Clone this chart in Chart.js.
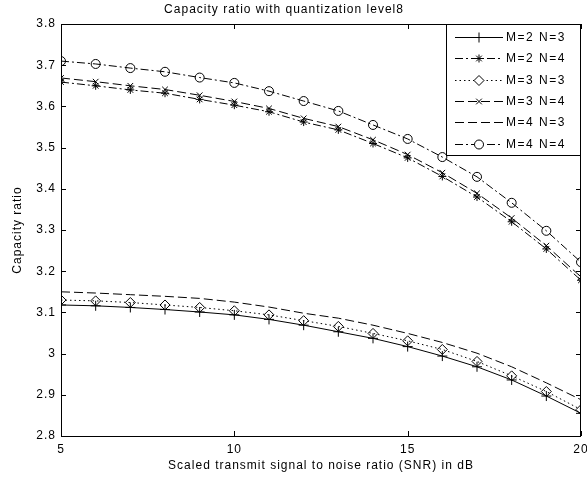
<!DOCTYPE html>
<html>
<head>
<meta charset="utf-8">
<title>Capacity ratio with quantization level8</title>
<script src="https://cdn.jsdelivr.net/npm/chart.js@4.4.1/dist/chart.umd.min.js"></script>
<style>
  html, body { margin: 0; padding: 0; background: #fff; }
  #wrap { width: 587px; height: 485px; position: relative; }
</style>
</head>
<body>
<div id="wrap"><canvas id="chart"></canvas></div>
<script>
// SNR axis (dB)
const snrDb = [5, 6, 7, 8, 9, 10, 11, 12, 13, 14, 15, 16, 17, 18, 19, 20];

// capacity ratio per antenna configuration
const m2n3 = [3.118, 3.116, 3.112, 3.107, 3.101, 3.094, 3.083, 3.069, 3.053, 3.037, 3.017, 2.994, 2.968, 2.936, 2.897, 2.855];
const m2n4 = [3.659, 3.650, 3.640, 3.632, 3.617, 3.603, 3.587, 3.562, 3.543, 3.510, 3.475, 3.430, 3.380, 3.320, 3.254, 3.178];
const m3n3 = [3.130, 3.128, 3.124, 3.118, 3.112, 3.104, 3.094, 3.080, 3.066, 3.049, 3.031, 3.010, 2.981, 2.946, 2.908, 2.864];
const m3n4 = [3.669, 3.660, 3.650, 3.641, 3.627, 3.612, 3.595, 3.571, 3.551, 3.519, 3.483, 3.439, 3.389, 3.329, 3.262, 3.186];
const m4n3 = [3.150, 3.147, 3.143, 3.139, 3.134, 3.125, 3.113, 3.098, 3.086, 3.069, 3.049, 3.027, 3.001, 2.968, 2.929, 2.888];
const m4n4 = [3.710, 3.703, 3.693, 3.684, 3.670, 3.657, 3.637, 3.613, 3.589, 3.555, 3.521, 3.477, 3.429, 3.366, 3.298, 3.222];

const seriesLabels = ['M=2 N=3', 'M=2 N=4', 'M=3 N=3', 'M=3 N=4', 'M=4 N=3', 'M=4 N=4'];

const xTickValues = [5, 10, 15, 20];
const yTickValues = [2.8, 2.9, 3.0, 3.1, 3.2, 3.3, 3.4, 3.5, 3.6, 3.7, 3.8];

const chartTitle = 'Capacity ratio with quantization level8';
const xTitle = 'Scaled transmit signal to noise ratio (SNR) in dB';
const yTitle = 'Capacity ratio';

const FONT = '"Liberation Sans", Arial, sans-serif';
Chart.defaults.font.family = FONT;
Chart.defaults.font.size = 12;
Chart.defaults.color = '#000';

function series(label, values, style, dash, radius) {
  return {
    label: label,
    data: snrDb.map((x, i) => ({ x: x, y: values[i] })),
    borderColor: '#000',
    borderWidth: 1,
    borderDash: dash,
    pointStyle: style,
    pointRadius: style ? radius : 0,
    pointBorderColor: '#000',
    pointBackgroundColor: 'rgba(0,0,0,0)',
    pointBorderWidth: 1,
    fill: false,
    tension: 0
  };
}

const datasets = [
  series(seriesLabels[0], m2n3, 'cross', [], 5),
  series(seriesLabels[1], m2n4, 'star', [8, 3, 2, 3], 4),
  series(seriesLabels[2], m3n3, 'rectRot', [1.5, 3], 5),
  series(seriesLabels[3], m3n4, 'crossRot', [9, 4], 4),
  series(seriesLabels[4], m4n3, false, [9, 4], 0),
  series(seriesLabels[5], m4n4, 'circle', [8, 3, 2, 3], 4.5)
];

// matlab style frame, inward ticks, title and legend box
const matlabFrame = {
  id: 'matlabFrame',
  beforeDraw(chart) {
    chart.ctx.letterSpacing = '1px';
  },
  afterDraw(chart) {
    const ctx = chart.ctx;
    const a = chart.chartArea;
    const xs = chart.scales.x, ys = chart.scales.y;
    ctx.save();
    ctx.strokeStyle = '#000';
    ctx.lineWidth = 1;
    ctx.setLineDash([]);
    ctx.beginPath();
    xs.ticks.forEach(t => {
      const px = Math.round(xs.getPixelForValue(t.value)) + 0.5;
      ctx.moveTo(px, a.bottom); ctx.lineTo(px, a.bottom - 5);
      ctx.moveTo(px, a.top); ctx.lineTo(px, a.top + 5);
    });
    ys.ticks.forEach(t => {
      const py = Math.round(ys.getPixelForValue(t.value)) + 0.5;
      ctx.moveTo(a.left, py); ctx.lineTo(a.left + 5, py);
      ctx.moveTo(a.right, py); ctx.lineTo(a.right - 5, py);
    });
    ctx.stroke();
    ctx.strokeRect(Math.round(a.left) + 0.5, Math.round(a.top) + 0.5,
      Math.round(a.right - a.left) - 1, Math.round(a.bottom - a.top));

    // title
    ctx.fillStyle = '#000';
    ctx.font = '12px ' + FONT;
    ctx.letterSpacing = '1px';
    ctx.textAlign = 'center';
    ctx.textBaseline = 'middle';
    ctx.fillText(chartTitle, 284, 10);

    // legend
    const lx = 446.5, ly = Math.round(a.top) + 0.5, lw = Math.round(a.right) - 447, lh = 131;
    ctx.fillStyle = '#fff';
    ctx.fillRect(lx, ly, lw, lh);
    ctx.strokeRect(lx, ly, lw, lh);
    chart.data.datasets.forEach((ds, i) => {
      const y = Math.round(37 + i * 21.3) + 0.5;
      ctx.setLineDash(ds.borderDash);
      ctx.beginPath();
      ctx.moveTo(455, y);
      ctx.lineTo(503, y);
      ctx.stroke();
      ctx.setLineDash([]);
      if (ds.pointStyle) {
        ctx.fillStyle = '#fff';
        Chart.helpers.drawPoint(ctx, {
          pointStyle: ds.pointStyle,
          radius: ds.pointRadius,
          rotation: 0,
          borderWidth: 1
        }, 479, y);
      }
      ctx.fillStyle = '#000';
      ctx.textAlign = 'left';
      ctx.textBaseline = 'middle';
      ctx.letterSpacing = '1.5px';
      ctx.fillText(ds.label, 506, y);
    });
    ctx.restore();
  }
};

new Chart(document.getElementById('chart'), {
  type: 'line',
  data: { datasets: datasets },
  plugins: [matlabFrame],
  options: {
    responsive: true,
    maintainAspectRatio: false,
    animation: false,
    layout: { padding: { top: 24, right: 4, left: 0, bottom: 0 } },
    plugins: {
      legend: { display: false },
      title: { display: false },
      tooltip: { enabled: false }
    },
    scales: {
      x: {
        type: 'linear',
        min: 5,
        max: 20,
        grid: { display: false, drawTicks: false },
        border: { display: false },
        afterBuildTicks: s => { s.ticks = xTickValues.map(v => ({ value: v })); },
        ticks: { padding: 6, maxRotation: 0, autoSkip: false, color: '#000' },
        title: { display: true, text: xTitle, padding: { top: 0, bottom: 12 }, color: '#000' },
        afterFit: s => { s.height = 49; s.paddingLeft = 0; s.paddingRight = 0; }
      },
      y: {
        type: 'linear',
        min: 2.8,
        max: 3.8,
        grid: { display: false, drawTicks: false },
        border: { display: false },
        afterBuildTicks: s => { s.ticks = yTickValues.map(v => ({ value: v })); },
        ticks: {
          padding: 5,
          autoSkip: false,
          color: '#000',
          callback: v => String(Math.round(v * 10) / 10)
        },
        title: { display: true, text: yTitle, padding: { top: 10, bottom: 0 }, color: '#000' },
        afterFit: s => { s.width = 61; s.paddingTop = 0; s.paddingBottom = 0; }
      }
    }
  }
});
</script>
</body>
</html>
